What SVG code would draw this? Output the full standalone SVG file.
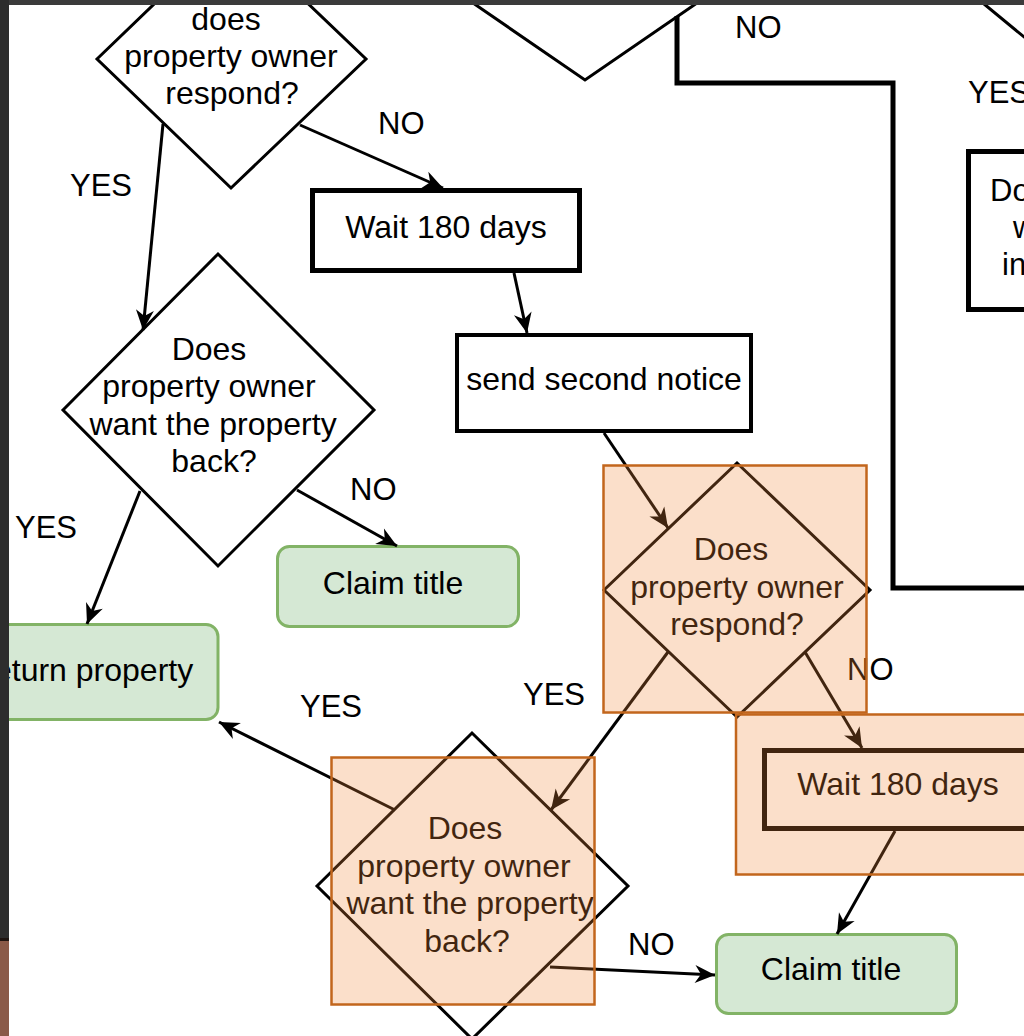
<svg xmlns="http://www.w3.org/2000/svg" width="1024" height="1036" viewBox="0 0 1024 1036">
<style>
.t{font-family:"Liberation Sans",Arial,Helvetica,sans-serif;font-size:32px;fill:#000;text-anchor:middle}
.lbl{font-family:"Liberation Sans",Arial,Helvetica,sans-serif;font-size:31px;fill:#000;text-anchor:start}
.dia{fill:#fff;stroke:#000;stroke-width:3}
.box{fill:#fff;stroke:#000;stroke-width:5}
.grn{fill:#d5e8d4;stroke:#82b366;stroke-width:3}
.edge{fill:none;stroke:#000;stroke-width:3;marker-end:url(#arr)}
.hl{fill:#f08a3c;fill-opacity:0.27;stroke:#c2661c;stroke-width:2.5}
</style>
<defs>
<marker id="arr" markerWidth="24" markerHeight="24" viewBox="-22 -12 24 24" refX="0" refY="0" orient="auto" markerUnits="userSpaceOnUse">
<path d="M0,0 L-20,-9 L-14,0 L-20,9 Z" fill="#000"/>
</marker>
</defs>
<rect x="0" y="0" width="1024" height="1036" fill="#fff"/>

<g id="nodes">
<g id="diamondA">
<polygon class="dia" points="97,59 231,-70 366,59 231,188"/>
<text class="t" x="226" y="30">does</text>
<text class="t" x="231" y="67">property owner</text>
<text class="t" x="232" y="104">respond?</text>
</g>
<g id="diamondB">
<polygon class="dia" points="425,-30 585,-140 745,-30 585,80"/>
</g>
<g id="diamondTopRight">
<polygon class="dia" points="984,4 1080,-75 1176,4 1080,83"/>
</g>
<g id="boxRight">
<rect class="box" x="968.5" y="151.5" width="120" height="158"/>
<text class="lbl" x="990" y="201" font-size="32">Do</text>
<text class="lbl" x="1013" y="238" font-size="32">w</text>
<text class="lbl" x="1002" y="275" font-size="32">in</text>
</g>
<g id="wait1">
<rect class="box" x="312.5" y="190.5" width="267" height="80"/>
<text class="t" x="446" y="238">Wait 180 days</text>
</g>
<g id="sendNotice">
<rect x="457" y="335" width="294" height="96" fill="#fff" stroke="#000" stroke-width="4"/>
<text class="t" x="604" y="390">send second notice</text>
</g>
<g id="diamondD">
<polygon class="dia" points="63,410 218,254 374,410 218,566"/>
<text class="t" x="209" y="360">Does</text>
<text class="t" x="209" y="397">property owner</text>
<text class="t" x="213" y="435">want the property</text>
<text class="t" x="214" y="472">back?</text>
</g>
<g id="claim1">
<rect class="grn" x="277.5" y="546.5" width="241" height="80" rx="12"/>
<text class="t" x="393" y="594">Claim title</text>
</g>
<g id="returnProperty">
<rect class="grn" x="-54" y="624.5" width="272" height="95" rx="12"/>
<text class="t" x="82" y="681">Return property</text>
</g>
<g id="diamondC">
<polygon class="dia" points="604,590 737,463 870,590 737,717"/>
<text class="t" x="731" y="560">Does</text>
<text class="t" x="737" y="598">property owner</text>
<text class="t" x="737" y="635">respond?</text>
</g>
<g id="wait2">
<rect class="box" x="764.5" y="750.5" width="267" height="78"/>
<text class="t" x="898" y="795">Wait 180 days</text>
</g>
<g id="diamondE">
<polygon class="dia" points="317,886 472,733 628,886 472,1039"/>
<text class="t" x="465" y="839">Does</text>
<text class="t" x="464" y="877">property owner</text>
<text class="t" x="470" y="914">want the property</text>
<text class="t" x="467" y="952">back?</text>
</g>
<g id="claim2">
<rect class="grn" x="716.5" y="934.5" width="240" height="79" rx="12"/>
<text class="t" x="831" y="980">Claim title</text>
</g>
</g>

<g id="connectors">
<path class="edge" d="M300,125 L443,188"/>
<path class="edge" d="M163,124 L143,330"/>
<path class="edge" d="M514,273 L527,333"/>
<path class="edge" d="M604,433 L668,528"/>
<path class="edge" d="M140,491 L87,624"/>
<path class="edge" d="M297,490 L397,546"/>
<path class="edge" d="M805,652 L862,748"/>
<path class="edge" d="M668,652 L551,810"/>
<path class="edge" d="M395,810 L219,722"/>
<path class="edge" d="M895,831 L837,934"/>
<path class="edge" d="M550,967 L715,975"/>
<path d="M677,16 L677,83 L893,83 L893,588 L1030,588" fill="none" stroke="#000" stroke-width="5"/>
</g>

<g id="labels">
<text class="lbl" x="735" y="38">NO</text>
<text class="lbl" x="968" y="103">YES</text>
<text class="lbl" x="378" y="134">NO</text>
<text class="lbl" x="70" y="196">YES</text>
<text class="lbl" x="15" y="538">YES</text>
<text class="lbl" x="350" y="500">NO</text>
<text class="lbl" x="300" y="717">YES</text>
<text class="lbl" x="523" y="705">YES</text>
<text class="lbl" x="847" y="680">NO</text>
<text class="lbl" x="628" y="955">NO</text>
</g>

<g id="highlights">
<rect class="hl" x="603.5" y="465.5" width="263" height="247"/>
<rect class="hl" x="736" y="714.5" width="300" height="160"/>
<rect class="hl" x="331.5" y="757.5" width="263" height="247"/>
</g>

<g id="frame">
<rect x="0" y="0" width="1024" height="5" fill="#3b3b3b"/>
<rect x="0" y="0" width="9" height="940" fill="#2d2d2d"/>
<rect x="0" y="938" width="9" height="3" fill="#1e1410"/>
<rect x="0" y="941" width="9" height="95" fill="#8a5a48"/>
</g>
</svg>
